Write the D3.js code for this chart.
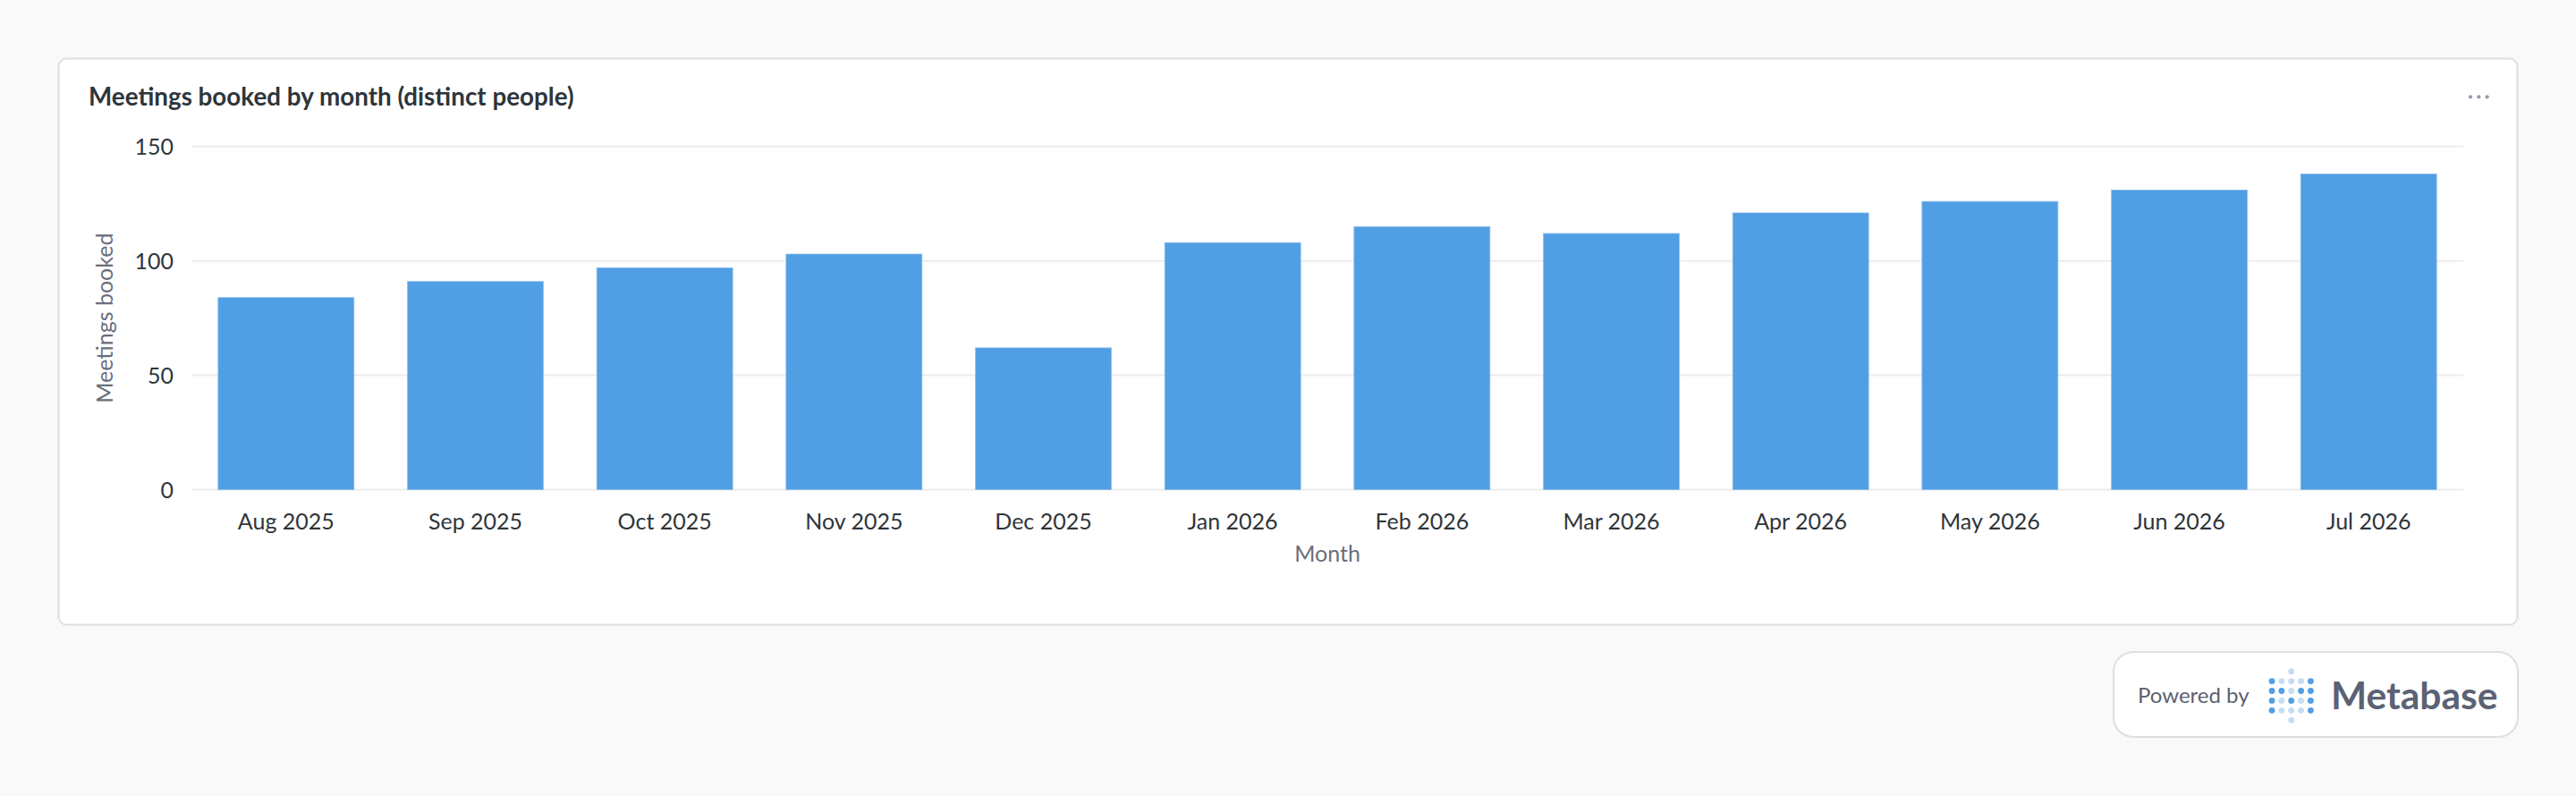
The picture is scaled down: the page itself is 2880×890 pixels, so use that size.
<!DOCTYPE html>
<html>
<head>
<meta charset="utf-8">
<script src="https://cdn.jsdelivr.net/npm/d3@7"></script>
<style>
  html, body { margin: 0; padding: 0; background: #f9f9f9; }
  svg { display: block; font-family: Lato, "Noto Sans", sans-serif; }
</style>
</head>
<body>
<svg id="chart" width="2880" height="890"></svg>
<script>
const months = ["Aug 2025", "Sep 2025", "Oct 2025", "Nov 2025", "Dec 2025", "Jan 2026",
                "Feb 2026", "Mar 2026", "Apr 2026", "May 2026", "Jun 2026", "Jul 2026"];
const meetings = [84, 91, 97, 103, 62, 108, 115, 112, 121, 126, 131, 138];
const yTicks = [0, 50, 100, 150];
const chartTitle = "Meetings booked by month (distinct people)";
const yTitle = "Meetings booked";
const xTitle = "Month";

const svg = d3.select("#chart");
svg.append("rect").attr("width", 2880).attr("height", 890).attr("fill", "#f9f9f9");

// Card
svg.append("rect")
  .attr("x", 65.5).attr("y", 65.5).attr("width", 2749).attr("height", 633)
  .attr("rx", 9).attr("fill", "#ffffff").attr("stroke", "#dcdfe0").attr("stroke-width", 2);

svg.append("text")
  .attr("x", 99).attr("y", 118)
  .attr("font-size", 27.8).attr("font-weight", 700).attr("fill", "#2e353b")
  .text(chartTitle);

// menu dots
svg.append("g").selectAll("circle").data([0, 1, 2]).join("circle")
  .attr("cx", d => 2762 + d * 9.3).attr("cy", 108.3).attr("r", 2.1).attr("fill", "#949aab");

const x = d3.scaleBand().domain(months).range([214, 2754])
  .paddingInner(0.282).paddingOuter(0.141);
const y = d3.scaleLinear().domain([0, 150]).range([547.5, 163.8]);

// gridlines
svg.append("g").selectAll("line").data(yTicks).join("line")
  .attr("x1", 214).attr("x2", 2754)
  .attr("y1", d => y(d)).attr("y2", d => y(d))
  .attr("stroke", "#ececec").attr("stroke-width", 2);

// y axis labels
const yAxis = d3.axisLeft(y).tickValues(yTicks).tickSize(0).tickPadding(0);
const gy = svg.append("g").attr("transform", "translate(194,0)").call(yAxis);
gy.select(".domain").remove();
gy.selectAll("text").attr("font-size", 25).attr("fill", "#2e353b")
  .attr("font-family", "Lato").attr("dy", "0.35em");

// bars
svg.append("g").selectAll("rect").data(meetings).join("rect")
  .attr("x", (d, i) => x(months[i]))
  .attr("y", d => y(d))
  .attr("width", x.bandwidth())
  .attr("height", d => y(0) - y(d))
  .attr("fill", "#509ee3")
  .attr("stroke", "#8fc1ee").attr("stroke-width", 0.8);

// x axis labels
const xAxis = d3.axisBottom(x).tickSize(0).tickPadding(0);
const gx = svg.append("g").attr("transform", "translate(0,591.5)").call(xAxis);
gx.select(".domain").remove();
gx.selectAll("text").attr("font-size", 25).attr("fill", "#2e353b")
  .attr("font-family", "Lato").attr("dy", 0);

// axis titles
svg.append("text")
  .attr("x", 1484).attr("y", 627.5).attr("text-anchor", "middle")
  .attr("font-size", 25).attr("fill", "#696e7b").text(xTitle);

svg.append("text")
  .attr("transform", "translate(126,355.7) rotate(-90)")
  .attr("text-anchor", "middle")
  .attr("font-size", 25).attr("fill", "#696e7b").text(yTitle);

// Powered by badge
const badge = svg.append("g");
badge.append("rect")
  .attr("x", 2363).attr("y", 729).attr("width", 452).attr("height", 95)
  .attr("rx", 22).attr("fill", "#ffffff").attr("stroke", "#dcdfe0").attr("stroke-width", 2);
badge.append("text")
  .attr("x", 2390).attr("y", 786).attr("font-size", 24).attr("fill", "#5a6072")
  .text("Powered by");
const dark = "#509ee3", light = "#c5ddf4";
const logo = [
  [0, 2, light],
  [1, 0, dark], [1, 1, light], [1, 2, light], [1, 3, light], [1, 4, dark],
  [2, 0, dark], [2, 1, dark], [2, 2, light], [2, 3, dark], [2, 4, dark],
  [3, 0, dark], [3, 1, light], [3, 2, dark], [3, 3, light], [3, 4, dark],
  [4, 0, dark], [4, 1, light], [4, 2, light], [4, 3, light], [4, 4, dark],
  [5, 2, light]
];
badge.append("g").selectAll("circle").data(logo).join("circle")
  .attr("cx", d => 2540 + d[1] * 10.85)
  .attr("cy", d => 750.7 + d[0] * 10.9)
  .attr("r", 3.4).attr("fill", d => d[2]);
badge.append("text")
  .attr("x", 2606).attr("y", 793.3).attr("font-size", 42.5).attr("font-weight", 700)
  .attr("fill", "#5b6275").text("Metabase");
</script>
</body>
</html>
